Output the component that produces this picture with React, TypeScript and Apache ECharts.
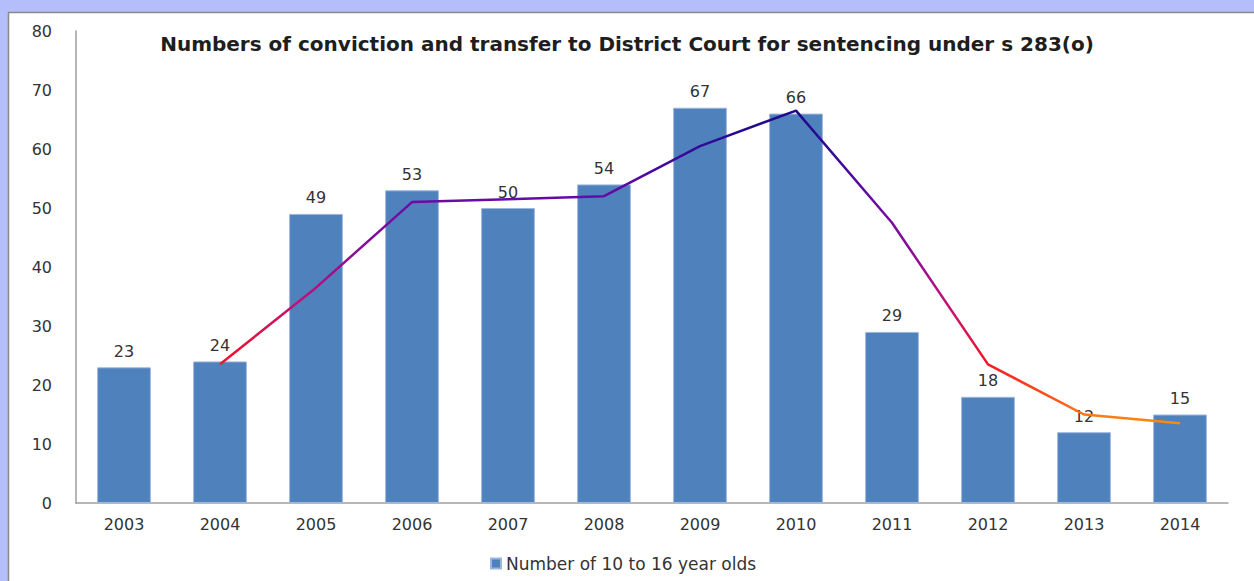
import React, { useEffect, useRef } from "react";
import * as echarts from "echarts";

const years = ["2003", "2004", "2005", "2006", "2007", "2008", "2009", "2010", "2011", "2012", "2013", "2014"];
const counts = [23, 24, 49, 53, 50, 54, 67, 66, 29, 18, 12, 15];
const trend = [null, 23.5, 36.5, 51, 51.5, 52, 60.5, 66.5, 47.5, 23.5, 15, 13.5];
const seriesName = "Number of 10 to 16 year olds";
const titleText = "Numbers of conviction and transfer to District Court for sentencing under s 283(o)";

export default function App() {
  const ref = useRef<HTMLDivElement>(null);
  useEffect(() => {
    if (!ref.current) return;
    document.body.style.margin = "0";
    document.body.style.overflow = "hidden";
    const chart = echarts.init(ref.current, null, { renderer: "svg" });
    const font = "DejaVu Sans";
    chart.setOption({
      animation: false,
      backgroundColor: "#B3BEFB",
      graphic: [
        {
          type: "rect",
          z: -100,
          silent: true,
          shape: { x: 8.5, y: 12.5, width: 1300, height: 700 },
          style: { fill: "#FFFFFF", stroke: "#8A8A8A", lineWidth: 1.5 },
        },
      ],
      title: {
        text: titleText,
        left: "center",
        top: 29,
        textStyle: { fontFamily: font, fontWeight: "bold", fontSize: 20, color: "#1E1E1E" },
      },
      legend: {
        data: [seriesName],
        left: 485,
        top: 550,
        icon: "rect",
        itemWidth: 10,
        itemHeight: 10,
        itemGap: 5,
        textStyle: { fontFamily: font, fontSize: 17, color: "#333" },
      },
      grid: { left: 76, right: 26, top: 31, bottom: 78, containLabel: false },
      xAxis: {
        type: "category",
        data: years,
        axisLine: { show: true, lineStyle: { color: "#9E9E9E", width: 1.5 } },
        axisTick: { show: false },
        axisLabel: { margin: 13, fontFamily: font, fontSize: 16, color: "#333" },
      },
      yAxis: {
        type: "value",
        min: 0,
        max: 80,
        interval: 10,
        axisLine: { show: true, lineStyle: { color: "#9E9E9E", width: 1.5 } },
        axisTick: { show: false },
        splitLine: { show: false },
        axisLabel: { margin: 24, fontFamily: font, fontSize: 16, color: "#333" },
      },
      series: [
        {
          name: seriesName,
          type: "bar",
          data: counts,
          barWidth: "56%",
          itemStyle: { color: "#4F81BD", borderColor: "#9DB7DC", borderWidth: 1 },
          label: {
            show: true,
            position: "top",
            distance: 8,
            fontFamily: font,
            fontSize: 16,
            color: "#333",
          },
        },
        {
          name: "trend",
          type: "line",
          data: trend,
          symbol: "none",
          z: 5,
          lineStyle: {
            width: 2.5,
            color: new echarts.graphic.LinearGradient(0, 0, 0, 1, [
              { offset: 0, color: "#1A0A8C" },
              { offset: 0.15, color: "#3A0A9A" },
              { offset: 0.3, color: "#6E0AA6" },
              { offset: 0.45, color: "#8A0C96" },
              { offset: 0.6, color: "#C0107A" },
              { offset: 0.8, color: "#F0142A" },
              { offset: 0.93, color: "#FF5A18" },
              { offset: 1, color: "#FF8A10" },
            ]),
          },
        },
      ],
    });
    return () => chart.dispose();
  }, []);
  return (
    <div
      ref={ref}
      style={{ position: "fixed", left: 0, top: 0, width: 1254, height: 581 }}
    />
  );
}
